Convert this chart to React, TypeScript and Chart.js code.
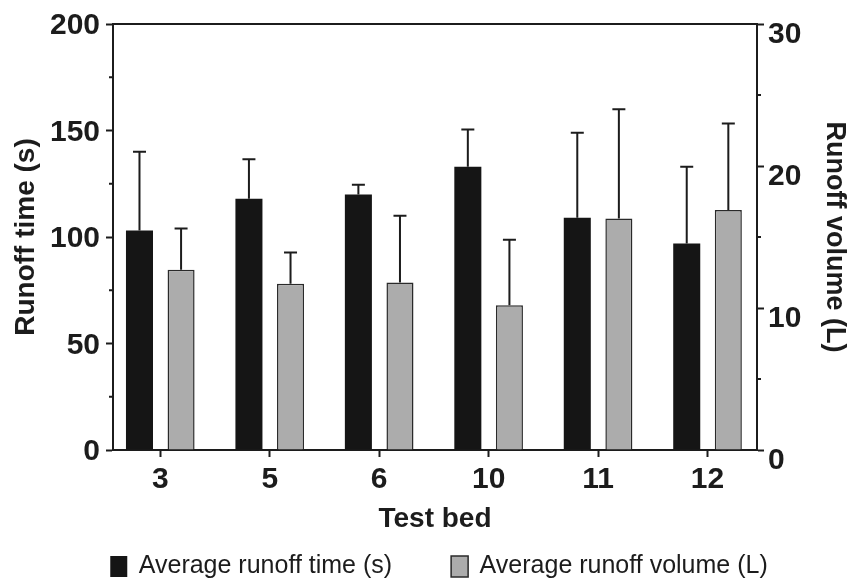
import React, { useEffect, useRef } from 'react';
import { Chart, registerables } from 'chart.js';

Chart.register(...registerables);

const categories = ['3', '5', '6', '10', '11', '12'];
const timeMeans = [103, 118, 120, 133, 109, 97];
const timeErrors = [37, 18.5, 4.5, 17.5, 40, 36];
const volumeMeans = [12.7, 11.7, 11.8, 10.2, 16.3, 16.9];
const volumeErrors = [2.9, 2.2, 4.7, 4.6, 7.7, 6.1];
const timeTicks = [0, 50, 100, 150, 200];
const timeMinorTicks = [25, 75, 125, 175];
const volumeTicks = [0, 10, 20, 30];
const volumeMinorTicks = [5, 15, 25];
const seriesNames = ['Average runoff time (s)', 'Average runoff volume (L)'];

const FONT = "'Liberation Sans', Arial, Helvetica, sans-serif";
const INK = '#1c1c1c';

const errorBarPlugin = {
  id: 'errorBars',
  afterDatasetsDraw(chart: any) {
    const ctx = chart.ctx;
    const errs = [timeErrors, volumeErrors];
    const means = [timeMeans, volumeMeans];
    ctx.save();
    ctx.strokeStyle = INK;
    ctx.lineWidth = 2;
    chart.data.datasets.forEach((ds: any, di: number) => {
      const meta = chart.getDatasetMeta(di);
      const yScale = chart.scales[meta.yAxisID];
      meta.data.forEach((bar: any, i: number) => {
        const top = yScale.getPixelForValue(means[di][i] + errs[di][i]);
        ctx.beginPath();
        ctx.moveTo(bar.x, bar.y);
        ctx.lineTo(bar.x, top);
        ctx.moveTo(bar.x - 6.5, top);
        ctx.lineTo(bar.x + 6.5, top);
        ctx.stroke();
      });
    });
    ctx.restore();
  },
};

const minorTickPlugin = {
  id: 'minorTicks',
  afterDraw(chart: any) {
    const ctx = chart.ctx;
    const { left, right } = chart.chartArea;
    ctx.save();
    ctx.strokeStyle = INK;
    ctx.lineWidth = 2;
    ctx.beginPath();
    timeMinorTicks.forEach((v) => {
      const y = chart.scales.y.getPixelForValue(v);
      ctx.moveTo(left - 4, y);
      ctx.lineTo(left, y);
    });
    volumeMinorTicks.forEach((v) => {
      const y = chart.scales.y1.getPixelForValue(v);
      ctx.moveTo(right, y);
      ctx.lineTo(right + 4, y);
    });
    ctx.stroke();
    ctx.restore();
  },
};

const legendPlugin = {
  id: 'bottomLegend',
  afterDraw(chart: any) {
    const ctx = chart.ctx;
    ctx.save();
    ctx.font = `25px ${FONT}`;
    ctx.textBaseline = 'middle';
    ctx.textAlign = 'left';
    const boxW = 17;
    const boxH = 21;
    const boxGap = 11.5;
    const itemGap = 59;
    const items = chart.data.datasets.map((ds: any) => ({
      text: ds.label,
      fill: ds.backgroundColor,
      border: ds.borderColor,
      bw: ds.borderWidth,
      w: ctx.measureText(ds.label).width,
    }));
    const total = items.reduce((s: number, it: any) => s + boxW + boxGap + it.w, 0) + itemGap * (items.length - 1);
    let x = 439 - total / 2;
    const cy = 566.5;
    items.forEach((it: any) => {
      ctx.fillStyle = it.fill;
      ctx.fillRect(x, cy - boxH / 2, boxW, boxH);
      if (it.bw > 0) {
        ctx.strokeStyle = it.border;
        ctx.lineWidth = it.bw;
        ctx.strokeRect(x, cy - boxH / 2, boxW, boxH);
      }
      ctx.fillStyle = INK;
      ctx.fillText(it.text, x + boxW + boxGap, cy);
      x += boxW + boxGap + it.w + itemGap;
    });
    ctx.restore();
  },
};

export default function App() {
  const canvasRef = useRef<HTMLCanvasElement | null>(null);

  useEffect(() => {
    if (!canvasRef.current) return;
    Chart.defaults.font.family = FONT;
    Chart.defaults.color = INK;
    const chart = new Chart(canvasRef.current, {
      type: 'bar',
      data: {
        labels: categories.map((_, i) => i),
        datasets: [
          {
            label: seriesNames[0],
            data: timeMeans,
            yAxisID: 'y',
            backgroundColor: '#151515',
            borderColor: '#151515',
            borderWidth: 0,
            categoryPercentage: 0.76,
            barPercentage: 0.65,
          },
          {
            label: seriesNames[1],
            data: volumeMeans,
            yAxisID: 'y1',
            backgroundColor: '#acacac',
            borderColor: '#2a2a2a',
            borderWidth: 1.5,
            categoryPercentage: 0.76,
            barPercentage: 0.65,
          },
        ],
      },
      options: {
        animation: false,
        responsive: true,
        maintainAspectRatio: false,
        layout: { padding: { top: 23, bottom: 46, left: 0, right: 0 } },
        plugins: {
          legend: { display: false },
          tooltip: { enabled: false },
        },
        scales: {
          x: {
            type: 'linear',
            position: 'bottom',
            min: -0.432,
            max: 5.452,
            offset: false,
            afterBuildTicks: (s: any) => {
              s.ticks = categories.map((_, i) => ({ value: i }));
            },
            afterFit: (s: any) => {
              s.height = 86;
            },
            ticks: {
              callback: (v: any) => categories[v],
              font: { size: 30, weight: 'bold' },
              color: INK,
              padding: 5,
              maxRotation: 0,
              autoSkip: false,
            },
            grid: { offset: false, drawOnChartArea: false, drawTicks: true, tickLength: 7, tickWidth: 2, tickColor: INK },
            border: { display: true, width: 2, color: INK },
            title: {
              display: true,
              text: 'Test bed',
              font: { size: 28, weight: 'bold' },
              color: INK,
              padding: { top: 0, bottom: 0 },
            },
          },
          x2: {
            type: 'linear',
            position: 'top',
            min: 0,
            max: 1,
            ticks: { display: false },
            grid: { display: false, drawTicks: false },
            border: { display: true, width: 2, color: INK },
          },
          y: {
            type: 'linear',
            position: 'left',
            min: 0,
            max: 200,
            afterBuildTicks: (s: any) => {
              s.ticks = timeTicks.map((v) => ({ value: v }));
            },
            afterFit: (s: any) => {
              s.width = 113;
            },
            ticks: {
              font: { size: 30, weight: 'bold' },
              color: INK,
              padding: 6,
              labelOffset: 2,
            },
            grid: { drawOnChartArea: false, drawTicks: true, tickLength: 7, tickWidth: 2, tickColor: INK },
            border: { display: true, width: 2, color: INK },
            title: {
              display: true,
              text: 'Runoff time (s)',
              font: { size: 28, weight: 'bold' },
              color: INK,
              padding: { top: 9, bottom: 0 },
            },
          },
          y1: {
            type: 'linear',
            position: 'right',
            min: 0,
            max: 30,
            afterBuildTicks: (s: any) => {
              s.ticks = volumeTicks.map((v) => ({ value: v }));
            },
            afterFit: (s: any) => {
              s.width = 94;
            },
            ticks: {
              font: { size: 30, weight: 'bold' },
              color: INK,
              padding: 4,
              labelOffset: 11,
            },
            grid: { drawOnChartArea: false, drawTicks: true, tickLength: 7, tickWidth: 2, tickColor: INK },
            border: { display: true, width: 2, color: INK },
            title: {
              display: true,
              text: 'Runoff volume (L)',
              font: { size: 27, weight: 'bold' },
              color: INK,
              padding: { top: 0, bottom: 0 },
            },
          },
        },
      } as any,
      plugins: [errorBarPlugin, minorTickPlugin, legendPlugin],
    });
    return () => chart.destroy();
  }, []);

  return (
    <div style={{ position: 'fixed', left: 0, top: 0, width: 851, height: 582, background: '#ffffff' }}>
      <canvas ref={canvasRef} />
    </div>
  );
}
